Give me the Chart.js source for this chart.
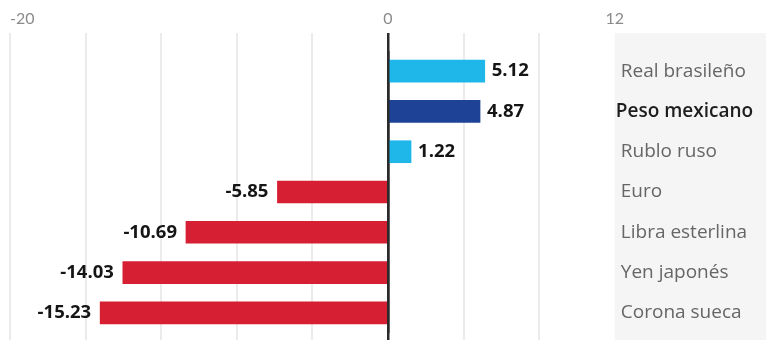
<!DOCTYPE html>
<html>
<head>
<meta charset="utf-8">
<script src="https://cdn.jsdelivr.net/npm/chart.js@4/dist/chart.umd.min.js"></script>
<style>
  body { margin: 0; background: #fff; }
  canvas { display: block; }
</style>
</head>
<body>
<canvas id="chart" width="766" height="350"></canvas>
<script>
// currencies vs dollar, % change
const categories = ['Real brasileño', 'Peso mexicano', 'Rublo ruso', 'Euro', 'Libra esterlina', 'Yen japonés', 'Corona sueca'];
const values = [5.12, 4.87, 1.22, -5.85, -10.69, -14.03, -15.23];
const tickLabels = [-20, 0, 12];
const highlight = 'Peso mexicano';

const LIGHT_BLUE = '#1fb6ea';
const DARK_BLUE = '#1d4296';
const RED = '#d61f32';
const FONT = 'Lato, "Open Sans", sans-serif';
const LABEL_FONT = '"Open Sans", Lato, sans-serif';

const barColors = values.map((v, i) => {
  if (categories[i] === highlight) return DARK_BLUE;
  return v >= 0 ? LIGHT_BLUE : RED;
});

// grey panel behind the category names
const panelPlugin = {
  id: 'panel',
  beforeDraw(chart) {
    const { ctx, chartArea, scales } = chart;
    const x0 = scales.x.getPixelForValue(12);
    ctx.save();
    ctx.fillStyle = '#f5f5f5';
    ctx.fillRect(x0, chartArea.top - 18, chart.width - x0, chartArea.bottom + 7 - (chartArea.top - 18));
    ctx.restore();
  }
};

const labelsPlugin = {
  id: 'labels',
  afterDatasetsDraw(chart) {
    const { ctx, scales } = chart;
    const meta = chart.getDatasetMeta(0);
    ctx.save();
    ctx.textBaseline = 'middle';
    // values next to bars
    ctx.font = 'bold 18.5px ' + LABEL_FONT;
    ctx.fillStyle = '#151515';
    meta.data.forEach((bar, i) => {
      const v = values[i];
      const txt = v.toFixed(2);
      if (v >= 0) {
        ctx.textAlign = 'left';
        ctx.fillText(txt, bar.x + 7, bar.y);
      } else {
        ctx.textAlign = 'right';
        ctx.fillText(txt, bar.x - 9, bar.y);
      }
    });
    // category names on the right
    const xl = scales.x.getPixelForValue(12);
    ctx.textAlign = 'left';
    categories.forEach((c, i) => {
      const y = scales.y.getPixelForValue(i);
      if (c === highlight) {
        ctx.font = '600 19px ' + LABEL_FONT;
        ctx.fillStyle = '#1e1e1e';
        ctx.fillText(c, xl + 1, y);
      } else {
        ctx.font = '19px ' + LABEL_FONT;
        ctx.fillStyle = '#666';
        ctx.fillText(c, xl + 6, y);
      }
    });
    ctx.restore();
  }
};

const gridColor = v => v === 0 ? '#2a2a2a' : (v >= 12 ? 'rgba(0,0,0,0)' : '#ebebeb');

new Chart(document.getElementById('chart'), {
  type: 'bar',
  data: {
    labels: categories,
    datasets: [{
      data: values,
      backgroundColor: barColors,
      borderWidth: 0,
      barThickness: 22,
      xAxisID: 'x'
    }]
  },
  options: {
    indexAxis: 'y',
    responsive: false,
    animation: false,
    layout: { padding: { top: 5, left: 10, right: 0, bottom: 10 } },
    plugins: { legend: { display: false }, tooltip: { enabled: false } },
    scales: {
      x: {
        type: 'linear',
        position: 'top',
        min: -20,
        max: 20,
        grid: {
          color: ctx => gridColor(ctx.tick.value),
          lineWidth: ctx => ctx.tick.value === 0 ? 2.5 : 2,
          tickLength: 18
        },
        border: { display: false },
        ticks: {
          stepSize: 4,
          autoSkip: false,
          maxRotation: 0,
          align: 'inner',
          padding: 4.4,
          color: '#8a8a8a',
          font: { family: FONT, size: 16 },
          callback: v => tickLabels.includes(v) ? String(v) : ''
        },
        afterFit(scale) { scale.paddingLeft = 0; scale.paddingRight = 0; }
      },
      x2: {
        type: 'linear',
        position: 'bottom',
        min: -20,
        max: 20,
        grid: {
          z: 1,
          color: ctx => ctx.tick.value === 0 ? '#2a2a2a' : 'rgba(0,0,0,0)',
          tickColor: ctx => gridColor(ctx.tick.value),
          lineWidth: ctx => ctx.tick.value === 0 ? 2.5 : 2,
          tickLength: 7
        },
        border: { display: false },
        ticks: { stepSize: 4, autoSkip: false, display: false },
        afterFit(scale) { scale.paddingLeft = 0; scale.paddingRight = 0; }
      },
      y: {
        display: false,
        grid: { display: false }
      }
    }
  },
  plugins: [panelPlugin, labelsPlugin]
});
</script>
</body>
</html>
